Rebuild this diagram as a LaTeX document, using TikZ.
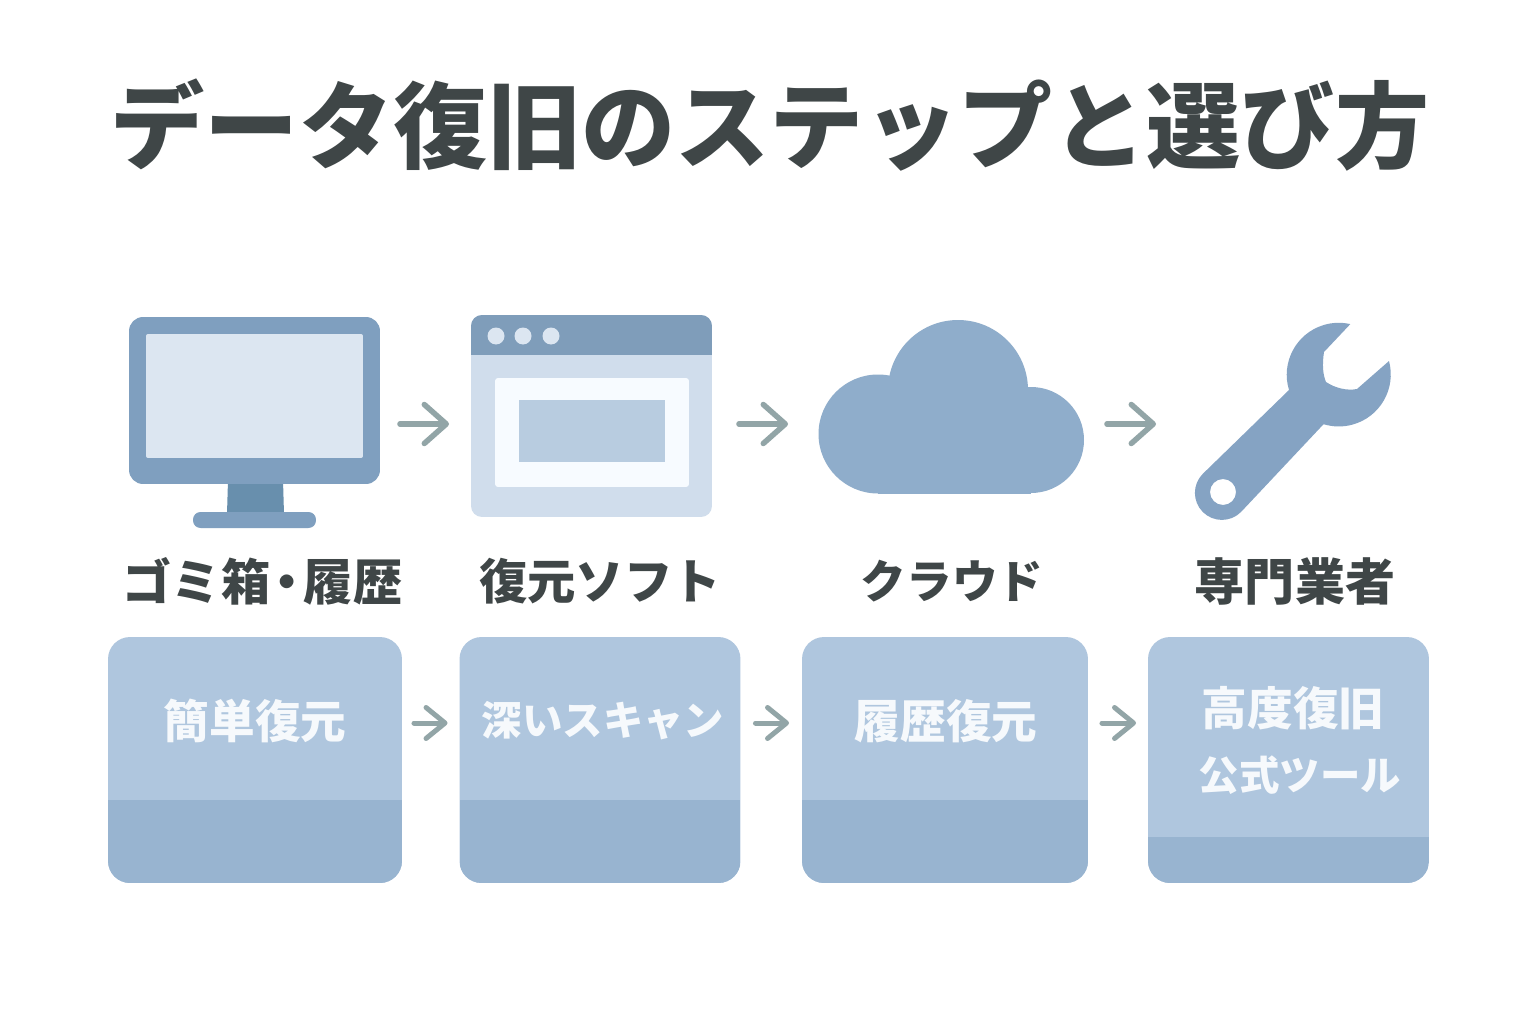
\documentclass[tikz,border=0pt]{standalone}
\usepackage{fontspec}
\setmainfont{Noto Sans CJK JP}
\usetikzlibrary{arrows.meta}
\definecolor{inkgray}{HTML}{3F4647}
\definecolor{framecol}{HTML}{7F9FBF}
\definecolor{standcol}{HTML}{688FAD}
\definecolor{screencol}{HTML}{DCE6F1}
\definecolor{headcol}{HTML}{7F9DBA}
\definecolor{bodycol}{HTML}{D0DDEC}
\definecolor{panecol}{HTML}{F7FBFF}
\definecolor{innercol}{HTML}{B8CCE0}
\definecolor{cloudcol}{HTML}{8FADCB}
\definecolor{toolcol}{HTML}{85A3C3}
\definecolor{boxtop}{HTML}{AFC6DE}
\definecolor{boxband}{HTML}{98B4D0}
\definecolor{arrowcol}{HTML}{92A5A7}
\definecolor{boxtext}{HTML}{F6F9FC}
\tikzset{
  iconbox/.style={inner sep=0pt, outer sep=0pt},
  stepbox/.style={iconbox, fill=boxtop, rounded corners=.44cm, minimum width=#1},
  band/.style={path picture={\fill[boxband, sharp corners] (path picture bounding box.south west) rectangle ([yshift=#1]path picture bounding box.south east);}},
  steplabel/.style={inkgray, font=\bfseries\fontsize{26}{30}\selectfont},
  boxlabel/.style={boxtext, font=\bfseries\fontsize{26}{30}\selectfont},
  toparrow/.style={arrowcol, line width=.11cm, line cap=round, -{Straight Barb[length=.44cm,width=.78cm,round,line width=.11cm]}},
  lowarrow/.style={arrowcol, line width=.1cm, line cap=round, -{Straight Barb[length=.38cm,width=.62cm,round,line width=.1cm]}}
}
\begin{document}
\begin{tikzpicture}[x=.02cm,y=-.02cm]
\useasboundingbox (0,0) rectangle (1536,1024);
\fill[white] (0,0) rectangle (1536,1024);
\node[iconbox, inkgray, font=\bfseries\fontsize{53.6}{60}\selectfont] (title) at (770,125) {データ復旧のステップと選び方};

\coordinate (toprow) at (0,424);
\coordinate (lowrow) at (0,723);

% monitor
\fill[standcol] (228,480) -- (283,480) -- (284,514) -- (227,514) -- cycle;
\node[iconbox, fill=framecol, rounded corners=.28cm, minimum width=5.02cm, minimum height=3.34cm] (monitor) at (254.5,400.5) {};
\node[iconbox, fill=screencol, rounded corners=.04cm, minimum width=4.34cm, minimum height=2.48cm] (screen) at (254.5,396) {};
\node[iconbox, fill=framecol, rounded corners=.15cm, minimum width=2.46cm, minimum height=.32cm] (base) at (254.5,520) {};

% window
\node[iconbox, fill=bodycol, rounded corners=.22cm, minimum width=4.82cm, minimum height=4.04cm,
  path picture={\fill[headcol, sharp corners] (path picture bounding box.north west) rectangle ([yshift=-.8cm]path picture bounding box.north east);}] (window) at (591.5,416) {};
\node[iconbox, fill=panecol, rounded corners=.06cm, minimum width=3.88cm, minimum height=2.18cm] (pane) at (592,432.5) {};
\node[iconbox, fill=innercol, minimum width=2.92cm, minimum height=1.24cm] (inner) at (592,431) {};
\foreach \Dot in {496,523,551}
\fill[screencol] (\Dot,336) circle (8.5);

% cloud
\node[iconbox, minimum width=5.32cm, minimum height=3.46cm] (cloud) at (951,406.5) {};
\fill[cloudcol] (958,390) circle (70);
\fill[cloudcol] (878,434) circle (59.5);
\fill[cloudcol] (1031,440) circle (53);
\fill[cloudcol] (878,420) rectangle (1031,493.5);

% wrench
\node[iconbox, minimum width=3.9cm, minimum height=3.96cm] (wrench) at (1292.5,421) {};
\fill[toolcol, even odd rule] (1350.4,324) -- (1324,352) .. controls (1322,365) and (1323,375) .. (1326,382)
  .. controls (1335,388) and (1347,391) .. (1357,389) -- (1389,361) arc (-15:107:52)
  -- (1241,512) arc (45:225:27) -- (1289,390) arc (163:283:52) -- cycle
  (1223,492) circle (13);

\draw[toparrow, shorten <=.4cm, shorten >=.44cm] (monitor.east |- toprow) -- (window.west |- toprow);
\draw[toparrow, shorten <=.54cm, shorten >=.6cm] (window.east |- toprow) -- (cloud.west |- toprow);
\draw[toparrow, shorten <=.46cm, shorten >=.78cm] (cloud.east |- toprow) -- (wrench.west |- toprow);

\node[steplabel, font=\bfseries\fontsize{28}{30}\selectfont] (labeltrash) at (262.5,581) {ゴミ箱\hspace{-.16em}・\hspace{-.16em}履歴};
\node[steplabel, font=\bfseries\fontsize{27.5}{30}\selectfont] (labelsoft) at (600,581) {復元ソフト};
\node[steplabel] (labelcloud) at (952,581) {クラウド};
\node[steplabel, font=\bfseries\fontsize{28.5}{30}\selectfont] (labelpro) at (1295,581) {専門業者};

\node[stepbox=5.88cm, band=1.66cm, minimum height=4.92cm] (boxeasy) at (255,760) {};
\node[stepbox=5.62cm, band=1.66cm, minimum height=4.92cm] (boxscan) at (600,760) {};
\node[stepbox=5.72cm, band=1.66cm, minimum height=4.92cm] (boxhist) at (945,760) {};
\node[stepbox=5.62cm, band=.92cm, minimum height=4.92cm] (boxpro) at (1288.5,760) {};

\node[boxlabel] (texteasy) at (255,721) {簡単復元};
\node[boxlabel, font=\bfseries\fontsize{23}{30}\selectfont] (textscan) at (603,721) {深いスキャン};
\node[boxlabel] (texthist) at (946,721) {履歴復元};
\node[boxlabel] (textpro) at (1293,708) {高度復旧};
\node[boxlabel, font=\bfseries\fontsize{23}{30}\selectfont] (texttool) at (1300,775) {公式ツール};

\draw[lowarrow, shorten <=.24cm, shorten >=.24cm] (boxeasy.east |- lowrow) -- (boxscan.west |- lowrow);
\draw[lowarrow, shorten <=.3cm, shorten >=.26cm] (boxscan.east |- lowrow) -- (boxhist.west |- lowrow);
\draw[lowarrow, shorten <=.28cm, shorten >=.24cm] (boxhist.east |- lowrow) -- (boxpro.west |- lowrow);
\end{tikzpicture}
\end{document}
